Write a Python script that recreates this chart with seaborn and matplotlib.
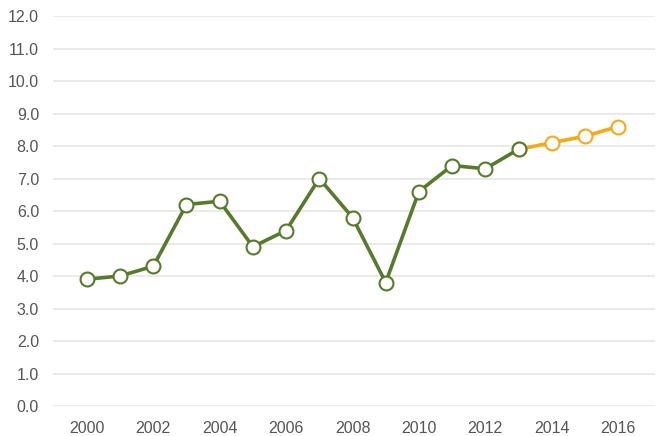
import matplotlib
matplotlib.use("Agg")
import matplotlib.pyplot as plt
import seaborn as sns
import pandas as pd

years_actual = [2000, 2001, 2002, 2003, 2004, 2005, 2006, 2007, 2008, 2009, 2010, 2011, 2012, 2013]
values_actual = [3.9, 4.0, 4.3, 6.2, 6.3, 4.9, 5.4, 7.0, 5.8, 3.8, 6.6, 7.4, 7.3, 7.9]
years_forecast = [2013, 2014, 2015, 2016]
values_forecast = [7.9, 8.1, 8.3, 8.6]
x_ticks = [2000, 2002, 2004, 2006, 2008, 2010, 2012, 2014, 2016]
y_ticks = [0, 1, 2, 3, 4, 5, 6, 7, 8, 9, 10, 11, 12]

green = "#587a2c"
orange = "#f2aa1c"

sns.set_style("white")
plt.rcParams['font.family'] = ['Liberation Sans', 'DejaVu Sans']

fig = plt.figure(figsize=(6.58, 4.36), dpi=100)
ax = fig.add_axes([53/658, 30/436, 602/658, 390/436])

df_a = pd.DataFrame({"year": years_actual, "value": values_actual})
df_f = pd.DataFrame({"year": years_forecast, "value": values_forecast})

for y in y_ticks:
    ax.axhline(y, color="#e8e8e8", lw=1.3, zorder=0)

sns.lineplot(data=df_f, x="year", y="value", ax=ax, color=orange, lw=2.6,
             marker="o", markersize=10, markerfacecolor="white",
             markeredgecolor=orange, markeredgewidth=1.5, clip_on=False, zorder=3)
sns.lineplot(data=df_a, x="year", y="value", ax=ax, color=green, lw=2.6,
             marker="o", markersize=10, markerfacecolor="white",
             markeredgecolor=green, markeredgewidth=1.5, clip_on=False, zorder=4)

ax.set_xlim(1998.98, 2017.11)
ax.set_ylim(0, 12)
ax.set_xticks(x_ticks)
ax.set_xticklabels([str(t) for t in x_ticks])
ax.set_yticks(y_ticks)
ax.set_yticklabels([f"{t:.1f}" for t in y_ticks])
ax.tick_params(axis="both", length=0, labelsize=11.5, colors="#555555")
ax.tick_params(axis="y", pad=10)
ax.tick_params(axis="x", pad=11)
ax.set_xlabel("")
ax.set_ylabel("")
for s in ax.spines.values():
    s.set_visible(False)

fig.savefig("out.png", dpi=100)
